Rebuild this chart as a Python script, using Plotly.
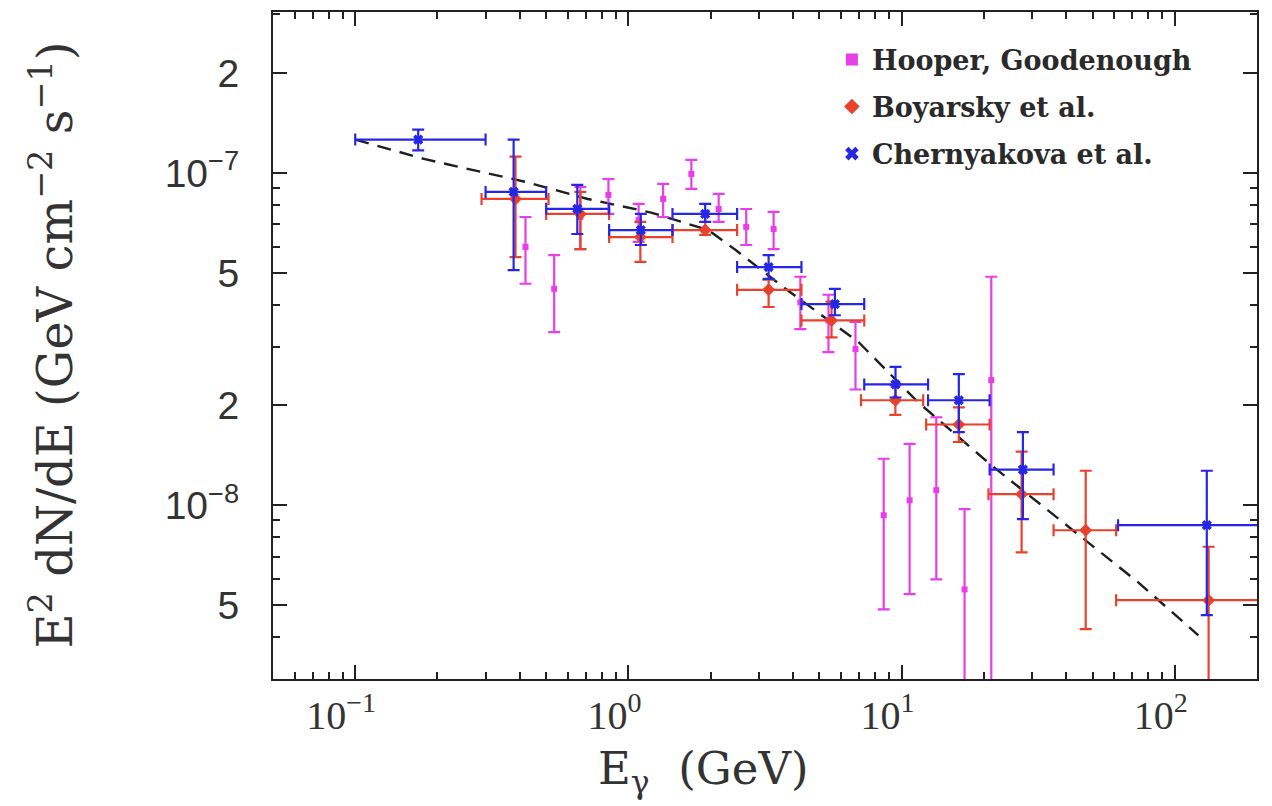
import math
import plotly.graph_objects as go

# ---------------- data ----------------
hooper_E = [0.42, 0.535, 0.667, 0.845, 1.09, 1.34, 1.70, 2.14, 2.70, 3.40, 4.26, 5.4, 6.78, 8.6, 10.7, 13.4, 17.0, 21.3]
hooper_F = [5.99e-8, 4.48e-8, 7.37e-8, 8.59e-8, 7.21e-8, 8.35e-8, 9.93e-8, 7.79e-8, 6.88e-8, 6.78e-8,
            4.08e-8, 3.60e-8, 2.95e-8, 9.33e-9, 1.035e-8, 1.11e-8, 5.58e-9, 2.38e-8]
hooper_hi = [7.37e-8, 5.66e-8, 9.07e-8, 9.59e-8, 8.07e-8, 9.27e-8, 1.094e-7, 8.65e-8, 7.79e-8, 7.63e-8,
             4.87e-8, 4.30e-8, 3.56e-8, 1.38e-8, 1.53e-8, 1.84e-8, 9.73e-9, 4.87e-8]
hooper_lo = [4.64e-8, 3.32e-8, 5.90e-8, 7.53e-8, 6.20e-8, 7.37e-8, 8.95e-8, 7.12e-8, 6.07e-8, 5.90e-8,
             3.39e-8, 2.89e-8, 2.23e-8, 4.86e-9, 5.40e-9, 5.98e-9, 1.5e-9, 1.5e-9]

boy_E = [0.386, 0.667, 1.106, 1.91, 3.26, 5.54, 9.49, 16.2, 27.5, 47.2, 133]
boy_F = [8.35e-8, 7.53e-8, 6.41e-8, 6.73e-8, 4.45e-8, 3.6e-8, 2.07e-8, 1.75e-8, 1.08e-8, 8.41e-9, 5.18e-9]
boy_hi = [1.12e-7, 8.77e-8, 7.12e-8, 7.53e-8, 4.77e-8, 4.1e-8, 2.30e-8, 1.97e-8, 1.45e-8, 1.27e-8, 7.5e-9]
boy_lo = [5.58e-8, 5.9e-8, 5.40e-8, 6.51e-8, 3.95e-8, 3.2e-8, 1.87e-8, 1.55e-8, 7.21e-9, 4.24e-9, 1.5e-9]
boy_Emin = [0.29, 0.5, 0.85, 1.45, 2.5, 4.3, 7.1, 12.3, 20.8, 36, 61]
boy_Emax = [0.51, 0.85, 1.45, 2.5, 4.3, 7.3, 12.0, 21, 36, 61, 300]

cher_E = [0.17, 0.38, 0.65, 1.11, 1.91, 3.26, 5.7, 9.5, 16.2, 27.8, 131]
cher_F = [1.26e-7, 8.77e-8, 7.8e-8, 6.73e-8, 7.53e-8, 5.21e-8, 4.03e-8, 2.31e-8, 2.07e-8, 1.28e-8, 8.71e-9]
cher_hi = [1.35e-7, 1.26e-7, 9.2e-8, 7.53e-8, 8.07e-8, 5.66e-8, 4.48e-8, 2.61e-8, 2.48e-8, 1.66e-8, 1.27e-8]
cher_lo = [1.17e-7, 5.10e-8, 6.55e-8, 6.07e-8, 7.12e-8, 4.80e-8, 3.73e-8, 2.11e-8, 1.66e-8, 9.08e-9, 4.67e-9]
cher_Emin = [0.1, 0.3, 0.5, 0.85, 1.45, 2.5, 4.3, 7.3, 12.5, 21, 62]
cher_Emax = [0.3, 0.5, 0.85, 1.45, 2.5, 4.3, 7.3, 12.5, 21, 36, 300]

fit_E = [0.1, 0.18, 0.42, 0.71, 1.21, 1.96, 2.47, 3.76, 6.95, 11.5, 21.3, 42, 73.5, 122]
fit_F = [1.26e-7, 1.10e-7, 9.4e-8, 8.35e-8, 7.6e-8, 6.73e-8, 5.86e-8, 4.48e-8, 3.1e-8, 2.04e-8,
         1.32e-8, 8.47e-9, 5.86e-9, 4.06e-9]

x_major = [0.1, 1, 10, 100]
x_major_text = ["10<sup>−1</sup>", "10<sup>0</sup>", "10<sup>1</sup>", "10<sup>2</sup>"]
x_minor = [0.06, 0.07, 0.08, 0.09, 0.2, 0.3, 0.4, 0.5, 0.6, 0.7, 0.8, 0.9,
           2, 3, 4, 5, 6, 7, 8, 9, 20, 30, 40, 50, 60, 70, 80, 90, 200]
y_major = [2e-7, 1e-7, 5e-8, 2e-8, 1e-8, 5e-9]
y_major_text = ["2", "10<sup>−7</sup>", "5", "2", "10<sup>−8</sup>", "5"]
y_minor = [3e-7, 9e-8, 8e-8, 7e-8, 6e-8, 4e-8, 3e-8, 9e-9, 8e-9, 7e-9, 6e-9, 4e-9, 3e-9]

x_title = "E<sub>γ</sub>  (GeV)"
y_title = "E<sup>2</sup> dN/dE (GeV cm<sup>−2</sup> s<sup>−1</sup>)"

MAG = "#e83ee8"
RED = "#e8412c"
BLUE = "#2626e6"
INK = "#2a2a2a"


def plus(v, hi):
    return [h - x for x, h in zip(v, hi)]


def minus(v, lo):
    return [x - l for x, l in zip(v, lo)]


fig = go.Figure()

fig.add_trace(go.Scatter(
    x=fit_E, y=fit_F, mode="lines", showlegend=False,
    line=dict(color="#1e1e1e", width=2.4, dash="14px,9px")))

fig.add_trace(go.Scatter(
    x=hooper_E, y=hooper_F, mode="markers", name="Hooper, Goodenough", legendgroup="h",
    marker=dict(symbol="square", size=6, color=MAG),
    error_y=dict(type="data", symmetric=False, array=plus(hooper_F, hooper_hi),
                 arrayminus=minus(hooper_F, hooper_lo), color=MAG, thickness=2.2, width=6)))

fig.add_trace(go.Scatter(
    x=boy_E, y=boy_F, mode="markers", name="Boyarsky et al.", legendgroup="b",
    marker=dict(symbol="diamond", size=10, color=RED),
    error_y=dict(type="data", symmetric=False, array=plus(boy_F, boy_hi),
                 arrayminus=minus(boy_F, boy_lo), color=RED, thickness=2.2, width=6),
    error_x=dict(type="data", symmetric=False, array=plus(boy_E, boy_Emax),
                 arrayminus=minus(boy_E, boy_Emin), color=RED, thickness=2.2, width=6)))

fig.add_trace(go.Scatter(
    x=cher_E, y=cher_F, mode="markers", name="Chernyakova et al.", legendgroup="c",
    marker=dict(symbol="x", size=9, color=BLUE),
    error_y=dict(type="data", symmetric=False, array=plus(cher_F, cher_hi),
                 arrayminus=minus(cher_F, cher_lo), color=BLUE, thickness=2.2, width=6),
    error_x=dict(type="data", symmetric=False, array=plus(cher_E, cher_Emax),
                 arrayminus=minus(cher_E, cher_Emin), color=BLUE, thickness=2.2, width=6)))

fig.update_layout(
    width=1272, height=806,
    margin=dict(l=273, r=15, t=10, b=127),
    paper_bgcolor="white", plot_bgcolor="white",
    showlegend=True,
    legend=dict(x=0.568, y=0.965, xanchor="left", yanchor="top",
                bgcolor="rgba(0,0,0,0)", borderwidth=0,
                font=dict(family="DejaVu Serif", size=27, color=INK, weight="bold"),
                itemsizing="constant", tracegroupgap=9),
    xaxis=dict(
        type="log", range=[math.log10(0.05), math.log10(200)],
        showgrid=False, zeroline=False,
        showline=True, linecolor="#222222", linewidth=2, mirror="allticks",
        tickmode="array", tickvals=x_major, ticktext=x_major_text,
        ticks="inside", ticklen=14, tickwidth=2, tickcolor="#222222",
        ticklabelshift=-14, ticklabelstandoff=0,
        tickfont=dict(family="Liberation Serif", size=40, color="#333333"),
        minor=dict(tickmode="array", tickvals=x_minor, ticks="inside", ticklen=7,
                   tickwidth=1.5, tickcolor="#222222", showgrid=False),
    ),
    yaxis=dict(
        type="log", range=[math.log10(3e-9), math.log10(3.05e-7)],
        showgrid=False, zeroline=False,
        showline=True, linecolor="#222222", linewidth=2, mirror="allticks",
        tickmode="array", tickvals=y_major, ticktext=y_major_text,
        ticks="inside", ticklen=14, tickwidth=2, tickcolor="#222222",
        ticklabelstandoff=24,
        tickfont=dict(family="Liberation Sans", size=39, color="#333333"),
        minor=dict(tickmode="array", tickvals=y_minor, ticks="inside", ticklen=7,
                   tickwidth=1.5, tickcolor="#222222", showgrid=False),
    ),
    annotations=[
        dict(text=x_title, xref="paper", yref="paper", x=0.437, y=0, xanchor="center",
             yanchor="middle", yshift=-92, showarrow=False,
             font=dict(family="DejaVu Serif", size=45, color="#333333")),
        dict(text=y_title, xref="paper", yref="paper", x=0, y=0.5, xanchor="center",
             yanchor="middle", xshift=-222, textangle=-90, showarrow=False,
             font=dict(family="DejaVu Serif", size=48, color="#333333")),
    ],
)

fig.write_html("out.html")
